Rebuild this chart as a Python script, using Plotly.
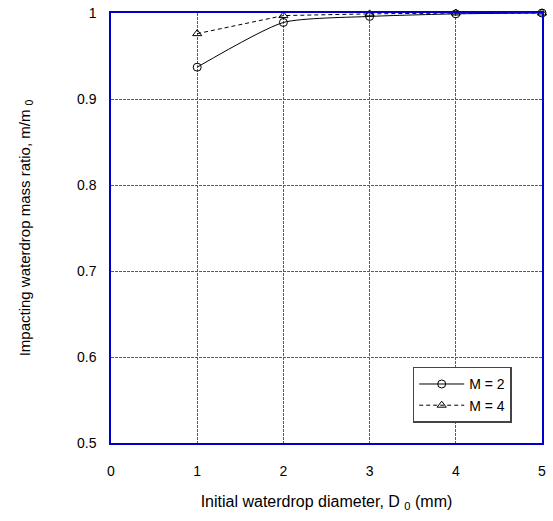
import plotly.graph_objects as go

diam = [1, 2, 3, 4, 5]
ratio_m2 = [0.937, 0.989, 0.996, 0.999, 1.0]
ratio_m4 = [0.976, 0.997, 0.999, 1.0, 1.0]
x_ticks = [0, 1, 2, 3, 4, 5]
y_ticks = [0.5, 0.6, 0.7, 0.8, 0.9, 1.0]
y_tick_text = ["0.5", "0.6", "0.7", "0.8", "0.9", "1"]

FONT = "Arial, Liberation Sans, sans-serif"

fig = go.Figure()
fig.add_trace(go.Scatter(
    x=diam, y=ratio_m2, mode="lines+markers", name="M = 2", cliponaxis=False,
    line=dict(color="black", width=1, shape="spline", smoothing=0.6),
    marker=dict(symbol="circle-open", size=8, color="black", line=dict(width=1)),
))
fig.add_trace(go.Scatter(
    x=diam, y=ratio_m4, mode="lines+markers", name="M = 4", cliponaxis=False,
    line=dict(color="black", width=1, dash="4px,3px"),
    marker=dict(symbol="triangle-up-open", size=8, color="black", line=dict(width=1)),
))

axis_common = dict(
    showline=True, linecolor="#0000cc", linewidth=1.5, mirror=True,
    showgrid=True, gridcolor="#4646ff", griddash="3px,1px", gridwidth=1.2,
    zeroline=False, ticks="", tickfont=dict(family=FONT, size=14, color="black"),
    automargin=False,
)

fig.update_xaxes(range=[0, 5], tickvals=x_ticks, ticktext=[str(t) for t in x_ticks],
                 title=dict(text="Initial waterdrop diameter, D <sub>0</sub> (mm)",
                            font=dict(family=FONT, size=16, color="black"),
                            standoff=18),
                 ticklabelstandoff=14, **axis_common)
fig.update_yaxes(range=[0.5, 1.0], tickvals=y_ticks, ticktext=y_tick_text,
                 title=dict(text="Impacting waterdrop mass ratio, m/m <sub>0</sub>",
                            font=dict(family=FONT, size=15, color="black"),
                            standoff=43),
                 ticklabelstandoff=10, **axis_common)

fig.update_layout(
    width=553, height=521,
    margin=dict(l=111, r=11, t=13, b=78),
    plot_bgcolor="white", paper_bgcolor="white",
    showlegend=True,
    legend=dict(x=0.70, y=0.177, xanchor="left", yanchor="top",
                bgcolor="white", bordercolor="#444444", borderwidth=1.5,
                font=dict(family=FONT, size=14, color="black"),
                tracegroupgap=0, itemwidth=45),
)

fig.write_html("out.html", config={"displayModeBar": False},
               post_script="document.body.style.margin='0';document.body.style.padding='0';")
